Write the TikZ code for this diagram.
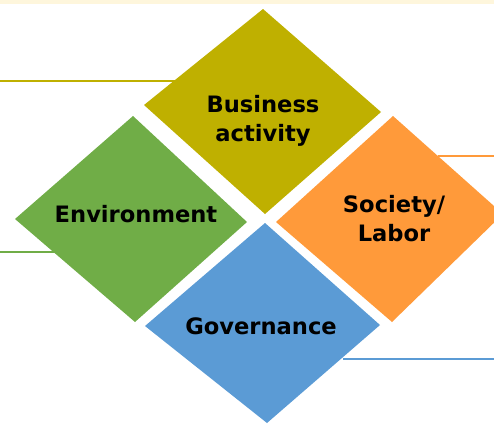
\documentclass[tikz,border=0pt]{standalone}
\usepackage{fontspec}
\setmainfont{DejaVu Sans}
\definecolor{cream}{HTML}{FEF6DC}
\definecolor{olivec}{HTML}{BFB000}
\definecolor{greenc}{HTML}{70AD47}
\definecolor{orangec}{HTML}{FF9A3A}
\definecolor{bluec}{HTML}{5B9BD5}
\begin{document}
\begin{tikzpicture}[x=1pt,y=-1pt,
  lbl/.style={font=\fontsize{22.6}{29}\selectfont\bfseries, align=center, text=black, inner sep=0pt},
  rule/.style={line width=1.3pt}]
\useasboundingbox (0,0) rectangle (494,424);
\clip (0,0) rectangle (494,424);
\fill[cream] (0,0) rectangle (494,3.5);
% connector lines
\coordinate (l1a) at (0,81);    \coordinate (l1b) at (181,81);
\coordinate (l2a) at (0,252);   \coordinate (l2b) at (56,252);
\coordinate (l3a) at (438,156); \coordinate (l3b) at (494,156);
\coordinate (l4a) at (343,359); \coordinate (l4b) at (494,359);
\draw[rule, olivec] (l1a) -- (l1b);
\draw[rule, greenc] (l2a) -- (l2b);
\draw[rule, orangec] (l3a) -- (l3b);
\draw[rule, bluec] (l4a) -- (l4b);
% diamonds
\fill[olivec] (263,9) -- (381,112) -- (265,214) -- (144,105) -- cycle;
\fill[greenc] (133,116) -- (247,222) -- (135,322) -- (15,219) -- cycle;
\fill[orangec] (393,116) -- (503,214) -- (392,322) -- (276,222) -- cycle;
\fill[bluec] (265,223) -- (380,325) -- (267,423) -- (145,326) -- cycle;
% labels
\node[lbl] (bus) at (263,121) {Business\\activity};
\node[lbl] (env) at (136,214) {Environment};
\node[lbl] (soc) at (394,219) {Society/\\Labor};
\node[lbl] (gov) at (261,326) {Governance};
\end{tikzpicture}
\end{document}
